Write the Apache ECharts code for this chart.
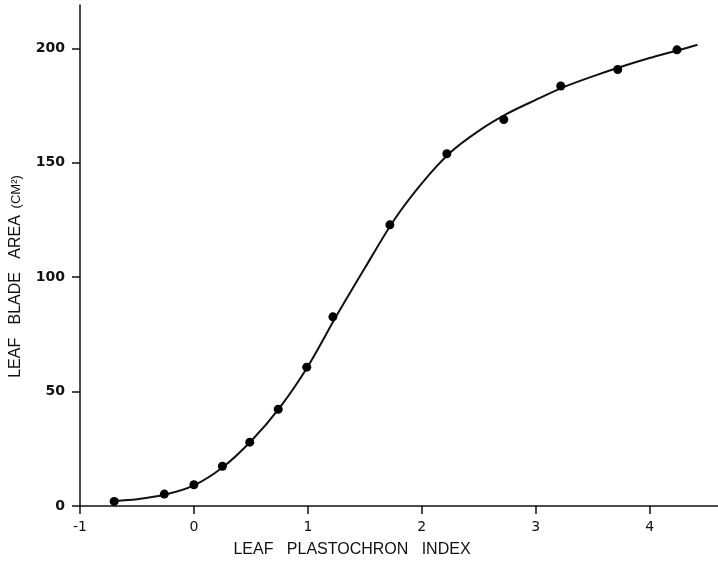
<!DOCTYPE html>
<html>
<head>
<meta charset="utf-8">
<script src="https://cdn.jsdelivr.net/npm/echarts@6/dist/echarts.min.js"></script>
<style>
  html, body { margin: 0; padding: 0; background: #fff; }
  #chart { width: 718px; height: 563px; }
</style>
</head>
<body>
<div id="chart"></div>
<script>
// 测量点 (叶片面积 vs 叶片节间指数)
let pointX = [-0.70, -0.26, 0.0, 0.25, 0.49, 0.74, 0.99, 1.22, 1.72, 2.22, 2.72, 3.22, 3.72, 4.24];
let pointY = [2.0, 5.2, 9.3, 17.4, 27.9, 42.3, 60.7, 82.7, 122.9, 154.0, 168.9, 183.6, 190.8, 199.4];

// 拟合曲线
let curveX = [-0.70, -0.5, -0.25, 0, 0.25, 0.5, 0.75, 1.0, 1.25, 1.5, 1.75, 2.0, 2.25, 2.5, 2.75, 3.0, 3.25, 3.5, 3.75, 4.0, 4.25, 4.42];
let curveY = [2.3, 3.0, 5.0, 9.0, 16.8, 28.3, 42.8, 61.0, 83.0, 104.0, 124.5, 141, 154.5, 164, 171.5, 177.5, 183.2, 187.8, 192, 195.8, 199.2, 201.6];

// 刻度
let xTicks = [-1, 0, 1, 2, 3, 4];
let yTicks = [0, 50, 100, 150, 200];

let chart = echarts.init(document.getElementById('chart'), null, { renderer: 'canvas' });

let points = pointX.map((x, i) => [x, pointY[i]]);
let curve = curveX.map((x, i) => [x, curveY[i]]);

let ink = '#111';
let fontFamily = 'DejaVu Sans, sans-serif';

chart.setOption({
  backgroundColor: '#ffffff',
  animation: false,
  grid: {
    left: 78,
    right: 0,
    top: 5,
    bottom: 56
  },
  xAxis: {
    type: 'value',
    min: -1,
    max: 4.6,
    name: 'LEAF   PLASTOCHRON   INDEX',
    nameLocation: 'middle',
    nameGap: 36,
    nameTextStyle: {
      color: ink,
      fontFamily: 'Liberation Sans, sans-serif',
      fontSize: 16,
      padding: [0, 94, 0, 0]
    },
    splitLine: { show: false },
    axisLine: { onZero: false, lineStyle: { color: ink, width: 1.5 } },
    axisTick: { show: true, length: 8, customValues: xTicks, lineStyle: { color: ink, width: 1.5 } },
    axisLabel: {
      customValues: xTicks,
      color: ink,
      fontFamily: fontFamily,
      fontSize: 14,
      margin: 14
    }
  },
  yAxis: {
    type: 'value',
    min: 0,
    max: 219,
    name: '{a|LEAF   BLADE   AREA}  {b|(CM²)}',
    nameLocation: 'middle',
    nameRotate: 90,
    nameGap: 56,
    nameTextStyle: {
      color: ink,
      padding: [0, 42, 0, 0],
      rich: {
        a: { fontFamily: 'Liberation Sans, sans-serif', fontSize: 16, color: ink },
        b: { fontFamily: 'Liberation Sans, sans-serif', fontSize: 13, color: ink }
      }
    },
    splitLine: { show: false },
    axisLine: { onZero: false, lineStyle: { color: ink, width: 1.5 } },
    axisTick: { show: true, length: 8, customValues: yTicks, lineStyle: { color: ink, width: 1.5 } },
    axisLabel: {
      customValues: yTicks,
      color: ink,
      fontFamily: fontFamily,
      fontSize: 14,
      fontWeight: 'bold',
      margin: 15
    }
  },
  series: [
    {
      name: 'curve',
      type: 'line',
      data: curve,
      smooth: 0.3,
      showSymbol: false,
      lineStyle: { color: ink, width: 2 },
      z: 2
    },
    {
      name: 'points',
      type: 'scatter',
      data: points,
      symbol: 'circle',
      symbolSize: 9,
      itemStyle: { color: '#000', opacity: 1 },
      z: 3
    }
  ]
});
</script>
</body>
</html>
